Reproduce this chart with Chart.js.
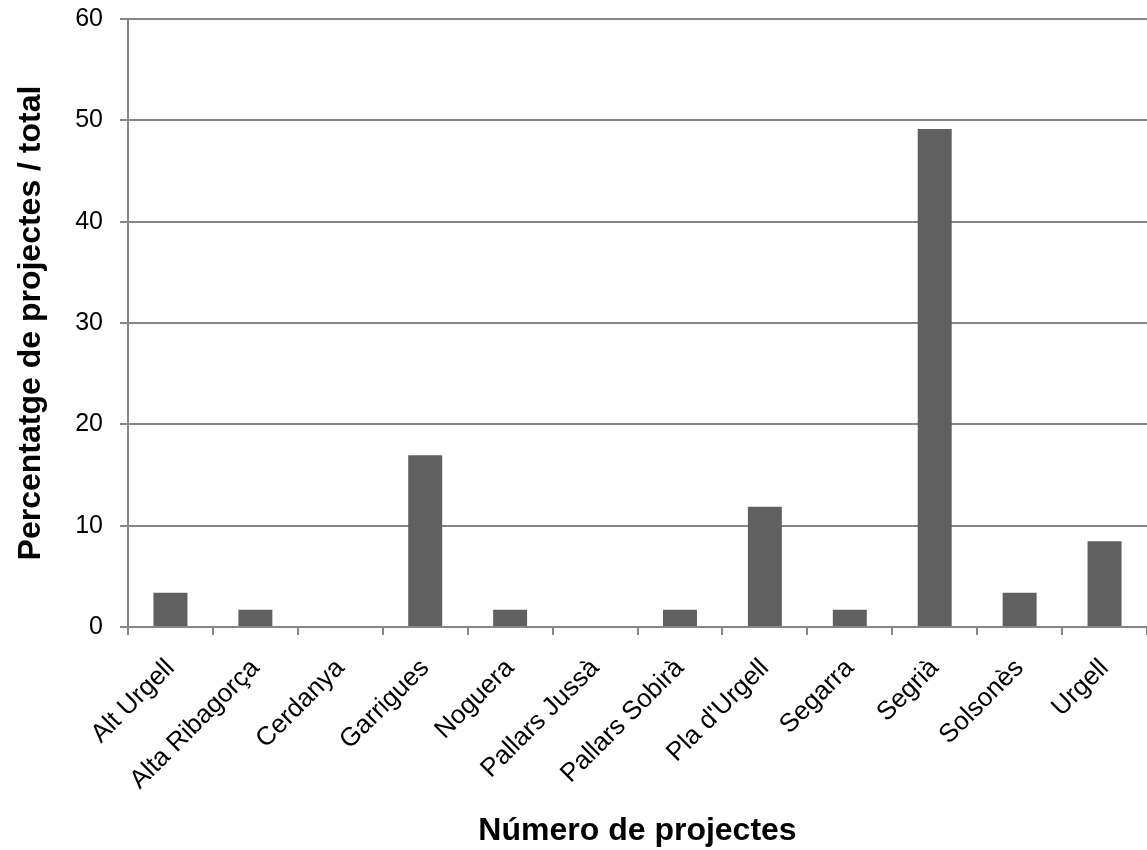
<!DOCTYPE html>
<html>
<head>
<meta charset="utf-8">
<script src="https://cdn.jsdelivr.net/npm/chart.js@4.4.1/dist/chart.umd.min.js"></script>
<style>
  html, body { margin: 0; padding: 0; background: #ffffff; }
  #wrap { width: 1147px; height: 850px; }
</style>
</head>
<body>
<div id="wrap"><canvas id="barChart" width="1147" height="850"></canvas></div>
<script>
// Data
const comarques = ['Alt Urgell', 'Alta Ribagorça', 'Cerdanya', 'Garrigues', 'Noguera', 'Pallars Jussà',
    'Pallars Sobirà', "Pla d'Urgell", 'Segarra', 'Segrià', 'Solsonès', 'Urgell'];
const percentatges = [3.39, 1.69, 0, 16.95, 1.69, 0, 1.69, 11.86, 1.69, 49.15, 3.39, 8.47];
const yTicks = [0, 10, 20, 30, 40, 50, 60];

const gridGrey = '#868686';
const barGrey = '#606060';
const fontFamily = '"Liberation Sans", Arial, sans-serif';

document.addEventListener('DOMContentLoaded', function() {
    initializeBarChart();
});

function initializeBarChart() {
    const ctx = document.getElementById('barChart');
    if (!ctx) return;
    new Chart(ctx, {
        type: 'bar',
        data: {
            labels: comarques,
            datasets: [{
                data: percentatges,
                backgroundColor: barGrey,
                borderWidth: 0,
                barPercentage: 0.4,
                categoryPercentage: 1.0
            }]
        },
        options: {
            responsive: false,
            animation: false,
            devicePixelRatio: 1,
            layout: { padding: { top: 19, right: 0, left: 0, bottom: 0 } },
            plugins: {
                legend: { display: false },
                tooltip: { enabled: false }
            },
            scales: {
                x: {
                    grid: {
                        offset: true,
                        drawOnChartArea: false,
                        color: gridGrey,
                        lineWidth: 2,
                        tickLength: 8
                    },
                    border: { color: gridGrey, width: 2 },
                    ticks: {
                        minRotation: 45,
                        maxRotation: 45,
                        autoSkip: false,
                        padding: 18,
                        color: '#000000',
                        font: { family: fontFamily, size: 26 }
                    },
                    title: {
                        display: true,
                        text: 'Número de projectes',
                        color: '#000000',
                        font: { family: fontFamily, size: 32, weight: 'bold' },
                        padding: { top: 0, bottom: 0 }
                    },
                    afterFit: function(scale) { scale.height = 223; }
                },
                y: {
                    min: 0,
                    max: 60,
                    afterBuildTicks: function(scale) {
                        scale.ticks = yTicks.map(v => ({ value: v }));
                    },
                    grid: {
                        color: gridGrey,
                        lineWidth: 2,
                        tickLength: 8
                    },
                    border: { color: gridGrey, width: 2 },
                    ticks: {
                        padding: 17,
                        color: '#000000',
                        font: { family: fontFamily, size: 25, lineHeight: 0.1 }
                    },
                    title: {
                        display: true,
                        text: 'Percentatge de projectes / total',
                        color: '#000000',
                        font: { family: fontFamily, size: 32, weight: 'bold' },
                        padding: { top: 12, bottom: 0 }
                    },
                    afterFit: function(scale) { scale.width = 128; }
                }
            }
        }
    });
}
</script>
</body>
</html>
